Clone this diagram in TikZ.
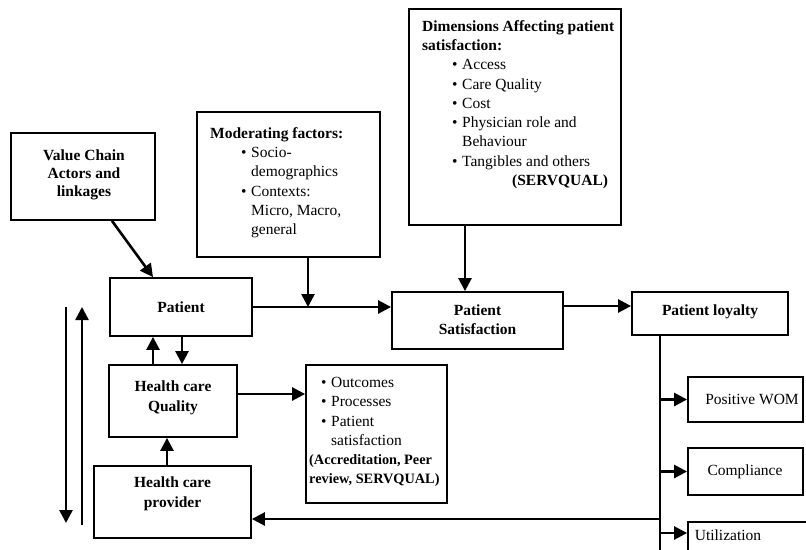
\documentclass[tikz,border=0pt]{standalone}
\usepackage{fontspec}
\setmainfont{Liberation Serif}
\usetikzlibrary{arrows.meta}
\newcommand{\bul}{\makebox[10pt][l]{•}}
\tikzset{
  box/.style={draw, line width=1.8pt, rectangle, inner sep=0pt},
  txt/.style={inner sep=0pt, align=left, font=\fontsize{15.5}{19.3}\selectfont},
  ctxt/.style={inner sep=0pt, align=center, font=\fontsize{15.5}{19.5}\selectfont\bfseries},
  conn/.style={line width=2.6pt},
  arr/.style={conn, -{Triangle[length=13pt,width=13pt]}}
}
\begin{document}
\begin{tikzpicture}[x=1pt,y=-1pt]
\clip (0,0) rectangle (806,549);
\useasboundingbox (0,0) rectangle (806,549);
% boxes
\node[box, minimum width=144pt, minimum height=87pt] (vc) at (83,176.5) {};
\node[box, minimum width=183pt, minimum height=145pt] (mod) at (288.5,184.5) {};
\node[box, minimum width=212pt, minimum height=216pt] (dim) at (515,117) {};
\node[box, minimum width=142pt, minimum height=58pt] (pat) at (181,307) {};
\node[box, minimum width=171pt, minimum height=57pt] (ps) at (477.5,320.5) {};
\node[box, minimum width=156pt, minimum height=43pt] (pl) at (710,313.5) {};
\node[box, minimum width=128pt, minimum height=72pt] (hcq) at (173,401) {};
\node[box, minimum width=141pt, minimum height=138pt] (outc) at (376.5,434) {};
\node[box, minimum width=157pt, minimum height=72pt] (prov) at (172.5,502) {};
\node[box, minimum width=115pt, minimum height=45pt] (wom) at (745.5,399.5) {};
\node[box, minimum width=115pt, minimum height=47pt] (comp) at (745.5,471.5) {};
\node[box, minimum width=127pt, minimum height=48pt] (util) at (751.5,546) {};
% texts
\node[ctxt, font=\fontsize{15.5}{18}\selectfont\bfseries] (vct) at (84,175) {Value Chain\\Actors and\\linkages};
\node[txt, anchor=north west] (modt) at (210,127) {\textbf{Moderating factors:}\\
\hspace*{31pt}\bul Socio-\\
\hspace*{41pt}demographics\\
\hspace*{31pt}\bul Contexts:\\
\hspace*{41pt}Micro, Macro,\\
\hspace*{41pt}general};
\node[txt, anchor=north west] (dimt) at (422,20) {\textbf{Dimensions Affecting patient}\\
\textbf{satisfaction:}\\
\hspace*{30pt}\bul Access\\
\hspace*{30pt}\bul Care Quality\\
\hspace*{30pt}\bul Cost\\
\hspace*{30pt}\bul Physician role and\\
\hspace*{40pt}Behaviour\\
\hspace*{30pt}\bul Tangibles and others\\
\hspace*{90pt}\textbf{(SERVQUAL)}};
\node[ctxt] (patt) at (pat) {Patient};
\node[ctxt] (pst) at (477.5,319.5) {Patient\\Satisfaction};
\node[ctxt] (plt) at (710,312) {Patient loyalty};
\node[ctxt] (hcqt) at (173,398) {Health care\\Quality};
\node[ctxt] (provt) at (172.5,494) {Health care\\provider};
\node[txt, anchor=north west] (outct) at (309,377) {\hspace*{12pt}\bul Outcomes\\
\hspace*{12pt}\bul Processes\\
\hspace*{12pt}\bul Patient\\
\hspace*{22pt}satisfaction\\
{\fontsize{14.3}{19.3}\selectfont\bfseries (Accreditation, Peer}\\
{\fontsize{14.3}{19.3}\selectfont\bfseries review, SERVQUAL)}};
\node[txt] (womt) at (752,399) {Positive WOM};
\node[txt] (compt) at (745,472) {Compliance};
\node[txt] (utilt) at (728,535) {Utilization};
% connectors
\draw[arr] ([xshift=29pt]vc.south) -- ([xshift=-28pt]pat.north);
\draw[arr] (pat.east) -- (pat.east -| ps.west);
\coordinate (m1) at ([xshift=19.5pt]mod.south);
\draw[arr] (m1) -- (m1 |- pat.east);
\coordinate (d1) at ([xshift=-50pt]dim.south);
\draw[arr] (d1) -- (d1 |- ps.north);
\draw[arr] (ps.east |- 0,306) -- (pl.west |- 0,306);
\coordinate (v0) at ([xshift=-50pt]pl.south);
\coordinate (v1) at (v0 |- 0,560);
\draw[conn] (v0) -- (v1);
\draw[arr] (v0 |- wom.west) -- (wom.west);
\draw[arr] (v0 |- comp.west) -- (comp.west);
\draw[arr] (v0 |- 0,533) -- (util.west |- 0,533);
\draw[arr] (v0 |- 0,519) -- (prov.east |- 0,519);
\coordinate (q1) at ([xshift=-20pt]hcq.north);
\draw[arr] (q1) -- (q1 |- pat.south);
\coordinate (q2) at ([xshift=1pt]pat.south);
\draw[arr] (q2) -- (q2 |- hcq.north);
\coordinate (q3) at ([xshift=-5.5pt]prov.north);
\draw[arr] (q3) -- (q3 |- hcq.south);
\draw[arr] (hcq.east |- 0,394) -- (outc.west |- 0,394);
\coordinate (l1t) at (66,307);
\coordinate (l1b) at (66,523);
\draw[arr] (l1t) -- (l1b);
\coordinate (l2b) at (82,525);
\coordinate (l2t) at (82,307);
\draw[arr] (l2b) -- (l2t);
\end{tikzpicture}
\end{document}
